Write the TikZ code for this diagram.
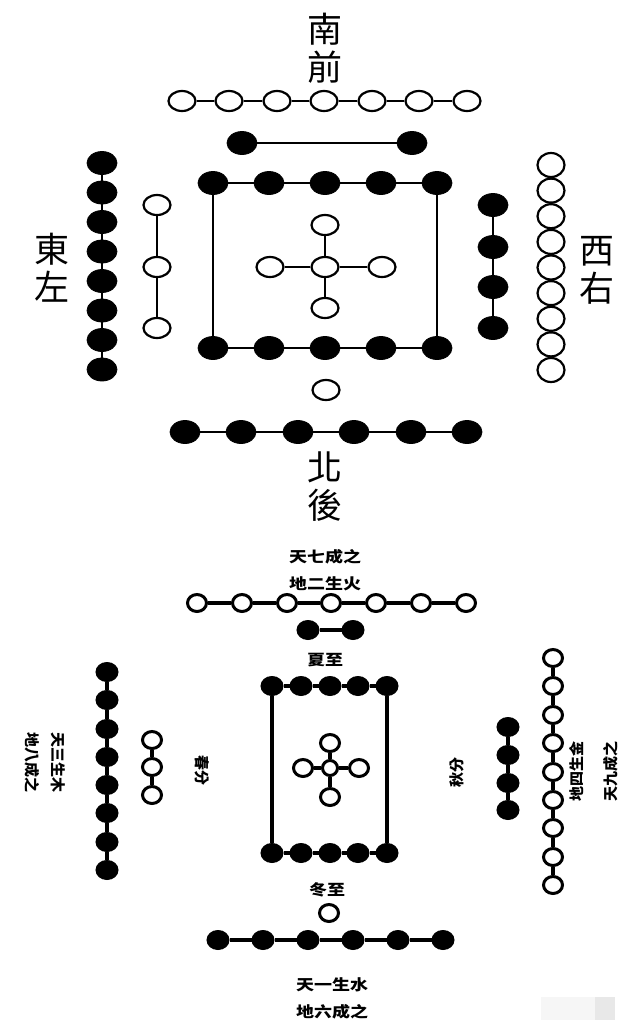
\documentclass[tikz,border=0pt]{standalone}
\usepackage{fontspec}
\newfontfamily\cjk{Noto Sans CJK TC}
\usetikzlibrary{shapes.geometric}

\tikzstyle{bind} = [line width=2.2pt]
\tikzstyle{bindb} = [line width=3.2pt]
\tikzstyle{yinA} = [ellipse, draw, fill=black, line width=0.8pt, minimum width=30pt, minimum height=23pt, inner sep=0pt]
\tikzstyle{yangA} = [ellipse, draw, fill=white, line width=2.2pt, minimum width=27pt, minimum height=20pt, inner sep=0pt]
\tikzstyle{yinB} = [ellipse, draw, fill=black, line width=1pt, minimum width=22pt, minimum height=19pt, inner sep=0pt]
\tikzstyle{yangB} = [ellipse, draw, fill=white, line width=3pt, minimum width=19pt, minimum height=17pt, inner sep=0pt]
\tikzstyle{bigchar} = [font=\cjk\fontsize{35}{38}\selectfont, align=center, inner sep=0pt]
\tikzstyle{smallchar} = [font=\cjk\bfseries\fontsize{15}{27}\selectfont, align=center, inner sep=0pt, xscale=1.2]
\tikzstyle{sidechar} = [font=\cjk\bfseries\fontsize{15}{26}\selectfont, align=center, inner sep=0pt]

\begin{document}
\begin{tikzpicture}[x=1pt,y=-1pt]
\useasboundingbox (0,0) rectangle (629,1023);

% upper chart
\node[bigchar] (nanqian) at (325,48) {南\\前};
\node[bigchar] (beihou) at (325,487) {北\\後};
\node[bigchar] (dongzuo) at (52,268) {東\\左};
\node[bigchar] (xiyou) at (597,270) {西\\右};

% south: seven and two
\node[yangA] (t7a) at (182,101) {}; \node[yangA] (t7b) at (229,101) {};
\node[yangA] (t7c) at (277,101) {}; \node[yangA] (t7d) at (324,101) {};
\node[yangA] (t7e) at (372,101) {}; \node[yangA] (t7f) at (419,101) {};
\node[yangA] (t7g) at (467,101) {};
\draw[bind] (t7a) -- (t7b) -- (t7c) -- (t7d) -- (t7e) -- (t7f) -- (t7g);
\node[yinA] (t2a) at (242,143) {}; \node[yinA] (t2b) at (412,143) {};
\draw[bind] (t2a) -- (t2b);

% centre: ten and five
\node[yinA] (t10a) at (213,183) {}; \node[yinA] (t10b) at (269,183) {};
\node[yinA] (t10c) at (325,183) {}; \node[yinA] (t10d) at (381,183) {};
\node[yinA] (t10e) at (437,183) {};
\node[yinA] (t10f) at (213,348) {}; \node[yinA] (t10g) at (269,348) {};
\node[yinA] (t10h) at (325,348) {}; \node[yinA] (t10i) at (381,348) {};
\node[yinA] (t10j) at (437,348) {};
\draw[bind] (t10a) -- (t10b) -- (t10c) -- (t10d) -- (t10e);
\draw[bind] (t10f) -- (t10g) -- (t10h) -- (t10i) -- (t10j);
\draw[bind] (t10a) -- (t10f);
\draw[bind] (t10e) -- (t10j);
\node[yangA] (t5c) at (325,267) {};
\node[yangA] (t5n) at (325,225) {}; \node[yangA] (t5s) at (325,308) {};
\node[yangA] (t5w) at (270,267) {}; \node[yangA] (t5e) at (382,267) {};
\draw[bind] (t5c) -- (t5n);
\draw[bind] (t5c) -- (t5s);
\draw[bind] (t5c) -- (t5w);
\draw[bind] (t5c) -- (t5e);

% east: eight and three
\node[yinA] (t8a) at (102,163) {}; \node[yinA] (t8b) at (102,192.5) {};
\node[yinA] (t8c) at (102,222) {}; \node[yinA] (t8d) at (102,251.5) {};
\node[yinA] (t8e) at (102,281) {}; \node[yinA] (t8f) at (102,310.5) {};
\node[yinA] (t8g) at (102,340) {}; \node[yinA] (t8h) at (102,369.5) {};
\draw[bind] (t8a) -- (t8b) -- (t8c) -- (t8d) -- (t8e) -- (t8f) -- (t8g) -- (t8h);
\node[yangA] (t3a) at (157,205) {}; \node[yangA] (t3b) at (157,267) {};
\node[yangA] (t3c) at (157,328) {};
\draw[bind] (t3a) -- (t3b) -- (t3c);

% west: four and nine
\node[yinA] (t4a) at (493,205) {}; \node[yinA] (t4b) at (493,247) {};
\node[yinA] (t4c) at (493,287) {}; \node[yinA] (t4d) at (493,328) {};
\draw[bind] (t4a) -- (t4b) -- (t4c) -- (t4d);
\node[yangA, minimum height=24pt] (t9a) at (551,165) {};
\node[yangA, minimum height=24pt] (t9b) at (551,190.6) {};
\node[yangA, minimum height=24pt] (t9c) at (551,216.2) {};
\node[yangA, minimum height=24pt] (t9d) at (551,241.9) {};
\node[yangA, minimum height=24pt] (t9e) at (551,267.5) {};
\node[yangA, minimum height=24pt] (t9f) at (551,293.1) {};
\node[yangA, minimum height=24pt] (t9g) at (551,318.8) {};
\node[yangA, minimum height=24pt] (t9h) at (551,344.4) {};
\node[yangA, minimum height=24pt] (t9i) at (551,370) {};

% north: one and six
\node[yangA] (t1) at (326,390) {};
\node[yinA] (t6a) at (185,432) {}; \node[yinA] (t6b) at (241,432) {};
\node[yinA] (t6c) at (298,432) {}; \node[yinA] (t6d) at (354,432) {};
\node[yinA] (t6e) at (411,432) {}; \node[yinA] (t6f) at (467,432) {};
\draw[bind] (t6a) -- (t6b) -- (t6c) -- (t6d) -- (t6e) -- (t6f);

% lower chart
\node[smallchar] (huo) at (325,570) {天七成之\\地二生火};
\node[smallchar] (xiazhi) at (325,660) {夏至};
\node[smallchar] (dongzhi) at (327,890) {冬至};
\node[smallchar] (shui) at (332,998) {天一生水\\地六成之};
\node[sidechar, rotate=-90] (mu) at (45,762) {天三生木\\地八成之};
\node[sidechar, rotate=-90] (chunfen) at (202,770) {春分};
\node[sidechar, rotate=90] (qiufen) at (457,772) {秋分};
\node[sidechar, rotate=90, font=\cjk\bfseries\fontsize{15}{34}\selectfont] (jin) at (594,771) {地四生金\\天九成之};

% south: seven and two
\node[yangB] (b7a) at (197,603) {}; \node[yangB] (b7b) at (242,603) {};
\node[yangB] (b7c) at (287,603) {}; \node[yangB] (b7d) at (331,603) {};
\node[yangB] (b7e) at (376,603) {}; \node[yangB] (b7f) at (421,603) {};
\node[yangB] (b7g) at (466,603) {};
\draw[bindb] (b7a) -- (b7b) -- (b7c) -- (b7d) -- (b7e) -- (b7f) -- (b7g);
\node[yinB] (b2a) at (308,630) {}; \node[yinB] (b2b) at (353,630) {};
\draw[bindb] (b2a) -- (b2b);

% centre: ten and five
\node[yinB] (b10a) at (272,686) {}; \node[yinB] (b10b) at (301,686) {};
\node[yinB] (b10c) at (330,686) {}; \node[yinB] (b10d) at (358,686) {};
\node[yinB] (b10e) at (387,686) {};
\node[yinB] (b10f) at (272,853) {}; \node[yinB] (b10g) at (301,853) {};
\node[yinB] (b10h) at (330,853) {}; \node[yinB] (b10i) at (358,853) {};
\node[yinB] (b10j) at (387,853) {};
\draw[bindb] (b10a) -- (b10b) -- (b10c) -- (b10d) -- (b10e);
\draw[bindb] (b10f) -- (b10g) -- (b10h) -- (b10i) -- (b10j);
\draw[bindb] (b10a) -- (b10f);
\draw[bindb] (b10e) -- (b10j);
\node[yangB, minimum width=15pt, minimum height=15pt] (b5c) at (330,768) {};
\node[yangB] (b5n) at (330,743) {}; \node[yangB] (b5s) at (330,797) {};
\node[yangB] (b5w) at (303,768) {}; \node[yangB] (b5e) at (359,768) {};
\draw[bindb] (b5c) -- (b5n);
\draw[bindb] (b5c) -- (b5s);
\draw[bindb] (b5c) -- (b5w);
\draw[bindb] (b5c) -- (b5e);

% east: eight and three
\node[yinB] (b8a) at (107,672) {}; \node[yinB] (b8b) at (107,700) {};
\node[yinB] (b8c) at (107,729) {}; \node[yinB] (b8d) at (107,757) {};
\node[yinB] (b8e) at (107,785) {}; \node[yinB] (b8f) at (107,813) {};
\node[yinB] (b8g) at (107,842) {}; \node[yinB] (b8h) at (107,870) {};
\draw[bindb] (b8a) -- (b8b) -- (b8c) -- (b8d) -- (b8e) -- (b8f) -- (b8g) -- (b8h);
\node[yangB] (b3a) at (152,740) {}; \node[yangB] (b3b) at (152,767) {};
\node[yangB] (b3c) at (152,795) {};
\draw[bindb] (b3a) -- (b3b) -- (b3c);

% west: four and nine
\node[yinB] (b4a) at (508,727) {}; \node[yinB] (b4b) at (508,755) {};
\node[yinB] (b4c) at (508,783) {}; \node[yinB] (b4d) at (508,810) {};
\draw[bindb] (b4a) -- (b4b) -- (b4c) -- (b4d);
\node[yangB] (b9a) at (553,658) {}; \node[yangB] (b9b) at (553,686) {};
\node[yangB] (b9c) at (553,715) {}; \node[yangB] (b9d) at (553,743) {};
\node[yangB] (b9e) at (553,772) {}; \node[yangB] (b9f) at (553,800) {};
\node[yangB] (b9g) at (553,828) {}; \node[yangB] (b9h) at (553,857) {};
\node[yangB] (b9i) at (553,885) {};
\draw[bindb] (b9a) -- (b9b) -- (b9c) -- (b9d) -- (b9e) -- (b9f) -- (b9g) -- (b9h) -- (b9i);

% north: one and six
\node[yangB] (b1) at (329,913) {};
\node[yinB] (b6a) at (218,940) {}; \node[yinB] (b6b) at (263,940) {};
\node[yinB] (b6c) at (308,940) {}; \node[yinB] (b6d) at (353,940) {};
\node[yinB] (b6e) at (398,940) {}; \node[yinB] (b6f) at (443,940) {};
\draw[bindb] (b6a) -- (b6b) -- (b6c) -- (b6d) -- (b6e) -- (b6f);

% grey patches at the corner
\fill[gray!7] (541,997) rectangle (595,1020);
\fill[gray!18] (595,997) rectangle (615,1020);

\end{tikzpicture}
\end{document}
